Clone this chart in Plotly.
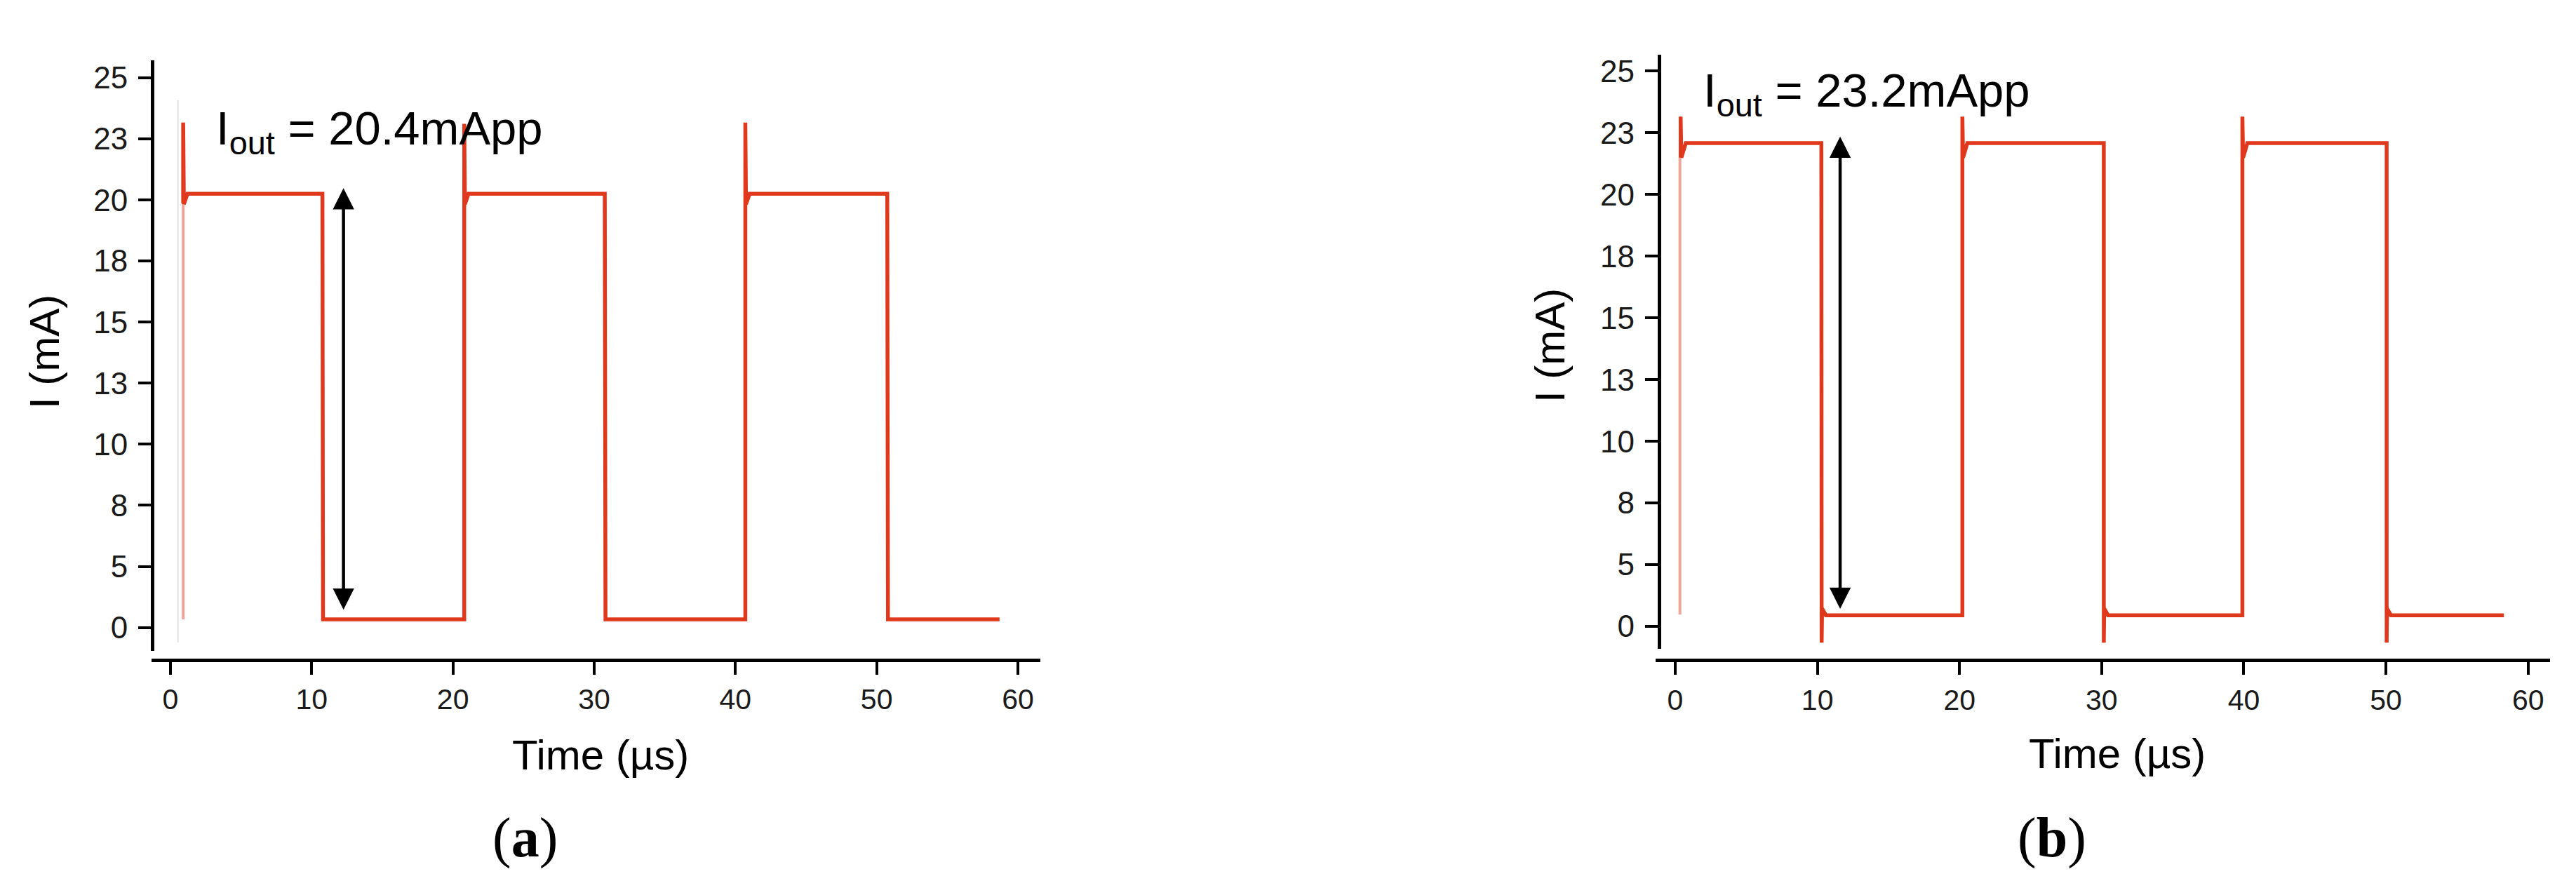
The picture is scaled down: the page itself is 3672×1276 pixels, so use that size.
import plotly.graph_objects as go

W, H = 3672, 1276

# ---------------- data ----------------
# y tick marks are evenly spaced on the drawing; labels as printed
y_tick_pos = [0.0, 2.78, 5.56, 8.33, 11.11, 13.89, 16.67, 19.44, 22.22, 25.0]
y_tick_labels = ["0", "5", "8", "10", "13", "15", "18", "20", "23", "25"]
x_tick_vals = [0, 10, 20, 30, 40, 50, 60]
x_tick_labels = ["0", "10", "20", "30", "40", "50", "60"]

# panel (a): output current waveform, time in µs, current in mA (axis units)
time_a = [0.9, 0.9, 0.95, 1.2, 10.76, 10.8, 20.8, 20.8, 20.85, 21.1, 30.75, 30.8,
          40.7, 40.7, 40.75, 41.0, 50.75, 50.8, 58.7]
curr_a = [19.3, 22.96, 19.25, 19.72, 19.72, 0.37, 0.37, 22.9, 19.25, 19.72, 19.72, 0.37,
          0.37, 22.96, 19.25, 19.72, 19.72, 0.37, 0.37]
edge_time_a = [0.9, 0.9]
edge_curr_a = [0.37, 19.3]
ghost_time_a = [0.53, 0.53]
ghost_curr_a = [-0.68, 23.97]
arrow_a = {"t": 12.25, "top": 19.98, "bottom": 0.76}
label_a = "I<sub>out</sub> = 20.4mApp"

# panel (b)
time_b = [0.38, 0.38, 0.43, 0.74, 10.28, 10.3, 10.33, 10.6, 20.2, 20.2, 20.25, 20.55,
          30.15, 30.15, 30.18, 30.45, 39.9, 39.9, 39.95, 40.25, 50.05, 50.05, 50.08,
          50.35, 58.3]
curr_b = [21.1, 22.95, 21.1, 21.76, 21.76, -0.73, 0.8, 0.5, 0.5, 22.95, 21.1, 21.76,
          21.76, -0.73, 0.8, 0.5, 0.5, 22.95, 21.1, 21.76, 21.76, -0.73, 0.8,
          0.5, 0.5]
edge_time_b = [0.33, 0.33]
edge_curr_b = [0.53, 21.1]
arrow_b = {"t": 11.6, "top": 22.05, "bottom": 0.74}
label_b = "I<sub>out</sub> = 23.2mApp"

x_title = "Time (µs)"
y_title = "I (mA)"
panel_labels = ["(<b>a</b>)", "(<b>b</b>)"]

# ---------------- styling ----------------
RED = "#E0381C"
PALE = "rgba(232,90,70,0.55)"
SANS = "Arial, Liberation Sans, sans-serif"
SERIF = "Times New Roman, Liberation Serif, serif"


def px_x(p):
    return p / W


def px_y(p):
    return 1 - p / H


fig = go.Figure()

# panel a traces
fig.add_trace(go.Scatter(x=ghost_time_a, y=ghost_curr_a, mode="lines",
                         line=dict(color="rgba(200,200,200,0.5)", width=2),
                         xaxis="x", yaxis="y", showlegend=False, hoverinfo="skip"))
fig.add_trace(go.Scatter(x=edge_time_a, y=edge_curr_a, mode="lines",
                         line=dict(color=PALE, width=4),
                         xaxis="x", yaxis="y", showlegend=False))
fig.add_trace(go.Scatter(x=time_a, y=curr_a, mode="lines",
                         line=dict(color=RED, width=5.5),
                         xaxis="x", yaxis="y", showlegend=False))
# panel b traces
fig.add_trace(go.Scatter(x=edge_time_b, y=edge_curr_b, mode="lines",
                         line=dict(color=PALE, width=4),
                         xaxis="x2", yaxis="y2", showlegend=False))
fig.add_trace(go.Scatter(x=time_b, y=curr_b, mode="lines",
                         line=dict(color=RED, width=5.5),
                         xaxis="x2", yaxis="y2", showlegend=False))

axis_common = dict(showgrid=False, zeroline=False, showline=True, linecolor="black",
                   linewidth=5, ticks="outside", ticklen=18, tickwidth=4,
                   tickcolor="black")

fig.update_layout(
    width=W, height=H,
    margin=dict(l=0, r=0, t=0, b=0),
    paper_bgcolor="white", plot_bgcolor="white",
    showlegend=False,
    xaxis=dict(domain=[px_x(208), px_x(1475)], range=[-1.341, 61.59],
               anchor="free", position=px_y(932.7),
               tickvals=x_tick_vals, ticktext=x_tick_labels,
               tickfont=dict(family=SANS, size=41, color="#1a1a1a"),
               **axis_common),
    yaxis=dict(domain=[px_y(920), px_y(78)], range=[-1.062, 25.79],
               anchor="free", position=px_x(209),
               tickvals=y_tick_pos, ticktext=y_tick_labels,
               tickfont=dict(family=SANS, size=44, color="#1a1a1a"),
               ticklabelstandoff=6,
               **axis_common),
    xaxis2=dict(domain=[px_x(2351.7), px_x(3626.7)], range=[-1.397, 61.53],
                anchor="free", position=px_y(933.3),
                tickvals=x_tick_vals, ticktext=x_tick_labels,
                tickfont=dict(family=SANS, size=41, color="#1a1a1a"),
                **axis_common),
    yaxis2=dict(domain=[px_y(916.7), px_y(70)], range=[-1.0, 25.736],
                anchor="free", position=px_x(2356.7),
                tickvals=y_tick_pos, ticktext=y_tick_labels,
                tickfont=dict(family=SANS, size=44, color="#1a1a1a"),
                ticklabelstandoff=6,
                **axis_common),
)

annotations = []
# double-headed arrows
for arr, xr, yr in [(arrow_a, "x", "y"), (arrow_b, "x2", "y2")]:
    annotations.append(dict(
        x=arr["t"], y=arr["top"], ax=arr["t"], ay=arr["bottom"],
        xref=xr, yref=yr, axref=xr, ayref=yr, text="", showarrow=True,
        arrowhead=2, startarrowhead=2, arrowside="end+start",
        arrowsize=1.35, startarrowsize=1.35, arrowwidth=4.5, arrowcolor="black"))

# I_out labels
annotations.append(dict(x=px_x(298), y=px_y(180), xref="paper", yref="paper",
                        text=label_a, showarrow=False, xanchor="left", yanchor="middle",
                        font=dict(family=SANS, size=67, color="black")))
annotations.append(dict(x=px_x(2418), y=px_y(125), xref="paper", yref="paper",
                        text=label_b, showarrow=False, xanchor="left", yanchor="middle",
                        font=dict(family=SANS, size=67, color="black")))

# axis titles
for cx, cy in [(848, 1068), (3010, 1066)]:
    annotations.append(dict(x=px_x(cx), y=px_y(cy), xref="paper", yref="paper",
                            text=x_title, showarrow=False, xanchor="center",
                            yanchor="middle",
                            font=dict(family=SANS, size=60, color="black")))
for cx, cy in [(55, 494), (2201, 485)]:
    annotations.append(dict(x=px_x(cx), y=px_y(cy), xref="paper", yref="paper",
                            text=y_title, showarrow=False, textangle=-90,
                            xanchor="center", yanchor="middle",
                            font=dict(family=SANS, size=60, color="black")))

# panel labels
for lab, cx in zip(panel_labels, [740, 2917]):
    annotations.append(dict(x=px_x(cx), y=px_y(1186), xref="paper", yref="paper",
                            text=lab, showarrow=False, xanchor="center",
                            yanchor="middle",
                            font=dict(family=SERIF, size=80, color="black")))

fig.update_layout(annotations=annotations)

fig.write_html("out.html")
